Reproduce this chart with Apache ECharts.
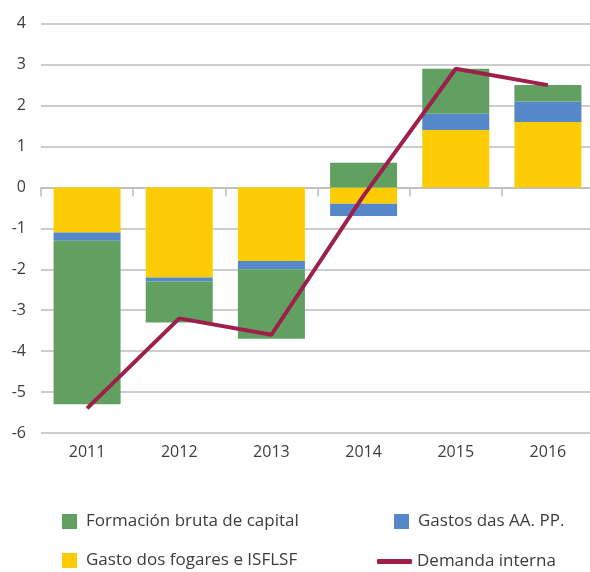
<!DOCTYPE html>
<html><head><meta charset="utf-8">
<script src="https://cdn.jsdelivr.net/npm/echarts@6/dist/echarts.min.js"></script>
<style>html,body{margin:0;padding:0;background:#fff}#c{width:590px;height:572px}</style>
</head><body><div id="c"></div>
<script>
const categories = ['2011','2012','2013','2014','2015','2016'];
const fogares = [-1.1, -2.2, -1.8, -0.4, 1.4, 1.6];
const aapp = [-0.2, -0.1, -0.2, -0.3, 0.4, 0.5];
const fbc = [-4.0, -1.0, -1.7, 0.6, 1.1, 0.4];
const demanda = [-5.4, -3.2, -3.6, -0.2, 2.9, 2.5];
const yTicks = [-6, 4, 1];

const FONT = 'Open Sans';
const TXT = '#3c3c3c';
const C_GREEN = '#62a062', C_BLUE = '#5588c8', C_YELLOW = '#fecc05', C_LINE = '#9e1f4b';

const chart = echarts.init(document.getElementById('c'));
function leg(name, left, top, opts) {
  return Object.assign({
    data: [name], left: left, top: top, padding: 0, itemWidth: 15, itemHeight: 15,
    icon: 'rect', selectedMode: false,
    textStyle: {fontFamily: FONT, fontSize: 17, color: TXT, padding: [0,0,0,4]}
  }, opts || {});
}
chart.setOption({
  animation: false,
  grid: {left: 41, width: 553, top: 23.7, height: 409.3, containLabel: false, outerBoundsMode: 'none'},
  xAxis: [
    {type: 'category', data: categories, position: 'bottom',
     axisLine: {show: false, onZero: false}, axisTick: {show: false},
     axisLabel: {fontFamily: FONT, fontSize: 16, color: TXT, margin: 11}},
    {type: 'category', data: categories, position: 'bottom',
     axisLine: {show: true, onZero: true, lineStyle: {color: '#bdbdbd', width: 1.5}},
     axisTick: {show: true, length: 9, lineStyle: {color: '#bdbdbd', width: 1.5}},
     axisLabel: {show: false}}
  ],
  yAxis: {type: 'value', min: yTicks[0], max: yTicks[1], interval: yTicks[2],
    axisLine: {show: false}, axisTick: {show: false},
    axisLabel: {fontFamily: FONT, fontSize: 16, color: TXT, margin: 15},
    splitLine: {lineStyle: {color: '#bdbdbd', width: 1.5}}},
  legend: [
    leg('Formación bruta de capital', 62, 513),
    leg('Gastos das AA. PP.', 394, 513),
    leg('Gasto dos fogares e ISFLSF', 62, 552),
    leg('Demanda interna', 377, 553, {itemWidth: 35, itemHeight: 5, icon: 'roundRect',
      textStyle: {fontFamily: FONT, fontSize: 17, color: TXT}})
  ],
  series: [
    {name: 'Gasto dos fogares e ISFLSF', type: 'bar', stack: 's', data: fogares, barWidth: 67, itemStyle: {color: C_YELLOW}},
    {name: 'Gastos das AA. PP.', type: 'bar', stack: 's', data: aapp, barWidth: 67, itemStyle: {color: C_BLUE}},
    {name: 'Formación bruta de capital', type: 'bar', stack: 's', data: fbc, barWidth: 67, itemStyle: {color: C_GREEN}},
    {name: 'Demanda interna', type: 'line', data: demanda, showSymbol: false, symbol: 'none',
     lineStyle: {color: C_LINE, width: 4}, itemStyle: {color: C_LINE}, z: 5}
  ]
});
</script></body></html>
